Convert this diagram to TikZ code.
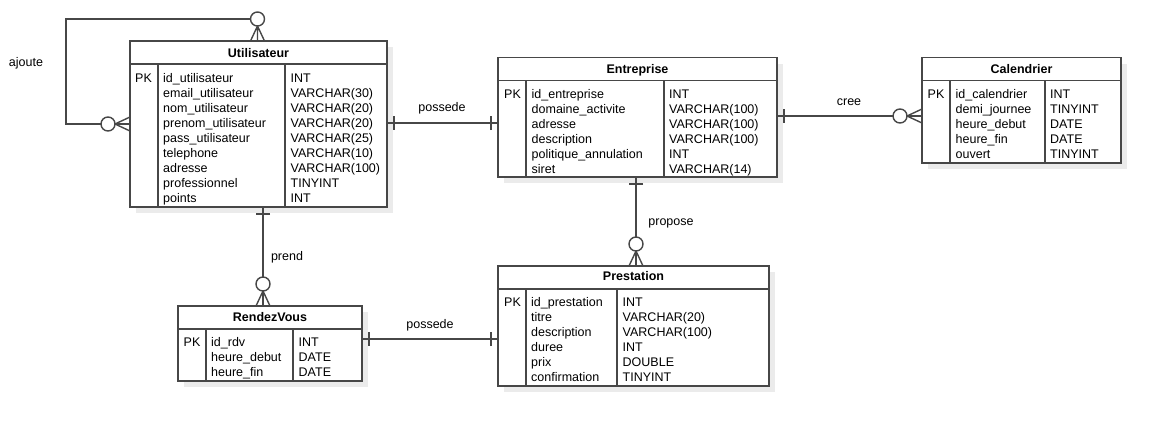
\documentclass[tikz,border=0pt]{standalone}
\usepackage{fontspec}
\setmainfont{Liberation Sans}
\usetikzlibrary{shadows}

\tikzset{
    rel/.style={draw=black!72, line width=1.4pt},
    entity/.style={rel, fill=white, inner sep=0pt, outer sep=0pt, anchor=north west,
        drop shadow={shadow xshift=6pt, shadow yshift=-6pt, fill=black!8, opacity=1}},
    cell/.style={anchor=base west, inner sep=0pt, font=\fontsize{12.5}{15}\selectfont},
    title/.style={anchor=base, inner sep=0pt, font=\fontsize{12.5}{15}\selectfont\bfseries},
    rellabel/.style={anchor=base, inner sep=0pt, font=\fontsize{12.5}{15}\selectfont},
    pics/zeromany/.style={code={
        \draw[rel] (0,-7) -- (15,0) -- (0,7) (0,0) -- (15,0);
        \draw[rel, fill=white] (22,0) circle (7);
    }},
    pics/onetick/.style={code={
        \draw[rel] (7,-7) -- (7,7);
    }}
}

\begin{document}
\begin{tikzpicture}[x=1pt, y=-1pt]
            \path[use as bounding box, fill=white] (0,0) rectangle (1161,426);

            % Utilisateur
            \node[entity, minimum width=257, minimum height=166] (util) at (130,41) {};
            \draw[rel] (130,64) -- (387,64) (158,64) -- (158,207) (285,64) -- (285,207);
            \node[title] (util-title) at (258.5,57.3) {Utilisateur};
            \node[cell] (util-pk) at (135,82.5) {PK};
            \foreach \nm/\ty [count=\i from 0] in {id\_utilisateur/INT, email\_utilisateur/VARCHAR(30),
                nom\_utilisateur/VARCHAR(20), prenom\_utilisateur/VARCHAR(20), pass\_utilisateur/VARCHAR(25),
                telephone/VARCHAR(10), adresse/VARCHAR(100), professionnel/TINYINT, points/INT} {
                \node[cell] (util-n\i) at (163,82.5+15*\i) {\nm};
                \node[cell] (util-y\i) at (290.5,82.5+15*\i) {\ty};
            }

            % Entreprise
            \node[entity, minimum width=279, minimum height=119.5] (entr) at (498,57.5) {};
            \draw[rel] (498,80.5) -- (777,80.5) (526,80.5) -- (526,177) (664,80.5) -- (664,177);
            \node[title] (entr-title) at (637.5,73.3) {Entreprise};
            \node[cell] (entr-pk) at (504,98.3) {PK};
            \foreach \nm/\ty [count=\i from 0] in {id\_entreprise/INT, domaine\_activite/VARCHAR(100),
                adresse/VARCHAR(100), description/VARCHAR(100), politique\_annulation/INT, siret/VARCHAR(14)} {
                \node[cell] (entr-n\i) at (531.5,98.3+15*\i) {\nm};
                \node[cell] (entr-y\i) at (669,98.3+15*\i) {\ty};
            }

            % Calendrier
            \node[entity, minimum width=199, minimum height=105.5] (cal) at (922,57.5) {};
            \draw[rel] (922,80.5) -- (1121,80.5) (950,80.5) -- (950,163) (1045,80.5) -- (1045,163);
            \node[title] (cal-title) at (1021.5,73.3) {Calendrier};
            \node[cell] (cal-pk) at (927.5,98.3) {PK};
            \foreach \nm/\ty [count=\i from 0] in {id\_calendrier/INT, demi\_journee/TINYINT,
                heure\_debut/DATE, heure\_fin/DATE, ouvert/TINYINT} {
                \node[cell] (cal-n\i) at (955.5,98.3+15*\i) {\nm};
                \node[cell] (cal-y\i) at (1050,98.3+15*\i) {\ty};
            }

            % Prestation
            \node[entity, minimum width=271, minimum height=120] (prest) at (498,266) {};
            \draw[rel] (498,289) -- (769,289) (526,289) -- (526,386) (617,289) -- (617,386);
            \node[title] (prest-title) at (633.5,280.7) {Prestation};
            \node[cell] (prest-pk) at (504,306.7) {PK};
            \foreach \nm/\ty [count=\i from 0] in {id\_prestation/INT, titre/VARCHAR(20),
                description/VARCHAR(100), duree/INT, prix/DOUBLE, confirmation/TINYINT} {
                \node[cell] (prest-n\i) at (531,306.7+15*\i) {\nm};
                \node[cell] (prest-y\i) at (622.5,306.7+15*\i) {\ty};
            }

            % RendezVous
            \node[entity, minimum width=184, minimum height=75] (rdv) at (178,306) {};
            \draw[rel] (178,329) -- (362,329) (206,329) -- (206,381) (293,329) -- (293,381);
            \node[title] (rdv-title) at (270,321.7) {RendezVous};
            \node[cell] (rdv-pk) at (183.5,346.7) {PK};
            \foreach \nm/\ty [count=\i from 0] in {id\_rdv/INT, heure\_debut/DATE, heure\_fin/DATE} {
                \node[cell] (rdv-n\i) at (211,346.7+15*\i) {\nm};
                \node[cell] (rdv-y\i) at (298.5,346.7+15*\i) {\ty};
            }

            % relations
            \draw[rel] (util.north -| 257.5,0) -- (257.5,19) -- (66,19) -- (66,124) -- (util.west);
            \pic[rotate=90] at (util.north -| 257.5,0) {zeromany};
            \pic[rotate=180] at (util.west) {zeromany};
            \node[rellabel] (ajoute) at (26,66.7) {ajoute};

            \draw[rel] (util.east |- 0,123) -- (entr.west |- 0,123);
            \pic at (util.east |- 0,123) {onetick};
            \pic[rotate=180] at (entr.west |- 0,123) {onetick};
            \node[rellabel] (possede1) at (442,111) {possede};

            \draw[rel] (entr.east |- 0,116) -- (cal.west |- 0,116);
            \pic at (entr.east |- 0,116) {onetick};
            \pic[rotate=180] at (cal.west |- 0,116) {zeromany};
            \node[rellabel] (cree) at (849,105) {cree};

            \draw[rel] (entr.south -| 636,0) -- (prest.north -| 636,0);
            \pic[rotate=-90] at (entr.south -| 636,0) {onetick};
            \pic[rotate=90] at (prest.north -| 636,0) {zeromany};
            \node[rellabel] (propose) at (671,225) {propose};

            \draw[rel] (util.south -| 263,0) -- (rdv.north -| 263,0);
            \pic[rotate=-90] at (util.south -| 263,0) {onetick};
            \pic[rotate=90] at (rdv.north -| 263,0) {zeromany};
            \node[rellabel] (prend) at (287,260.7) {prend};

            \draw[rel] (rdv.east |- 0,339) -- (prest.west |- 0,339);
            \pic at (rdv.east |- 0,339) {onetick};
            \pic[rotate=180] at (prest.west |- 0,339) {onetick};
            \node[rellabel] (possede2) at (430,328.3) {possede};
        \end{tikzpicture}
\end{document}
